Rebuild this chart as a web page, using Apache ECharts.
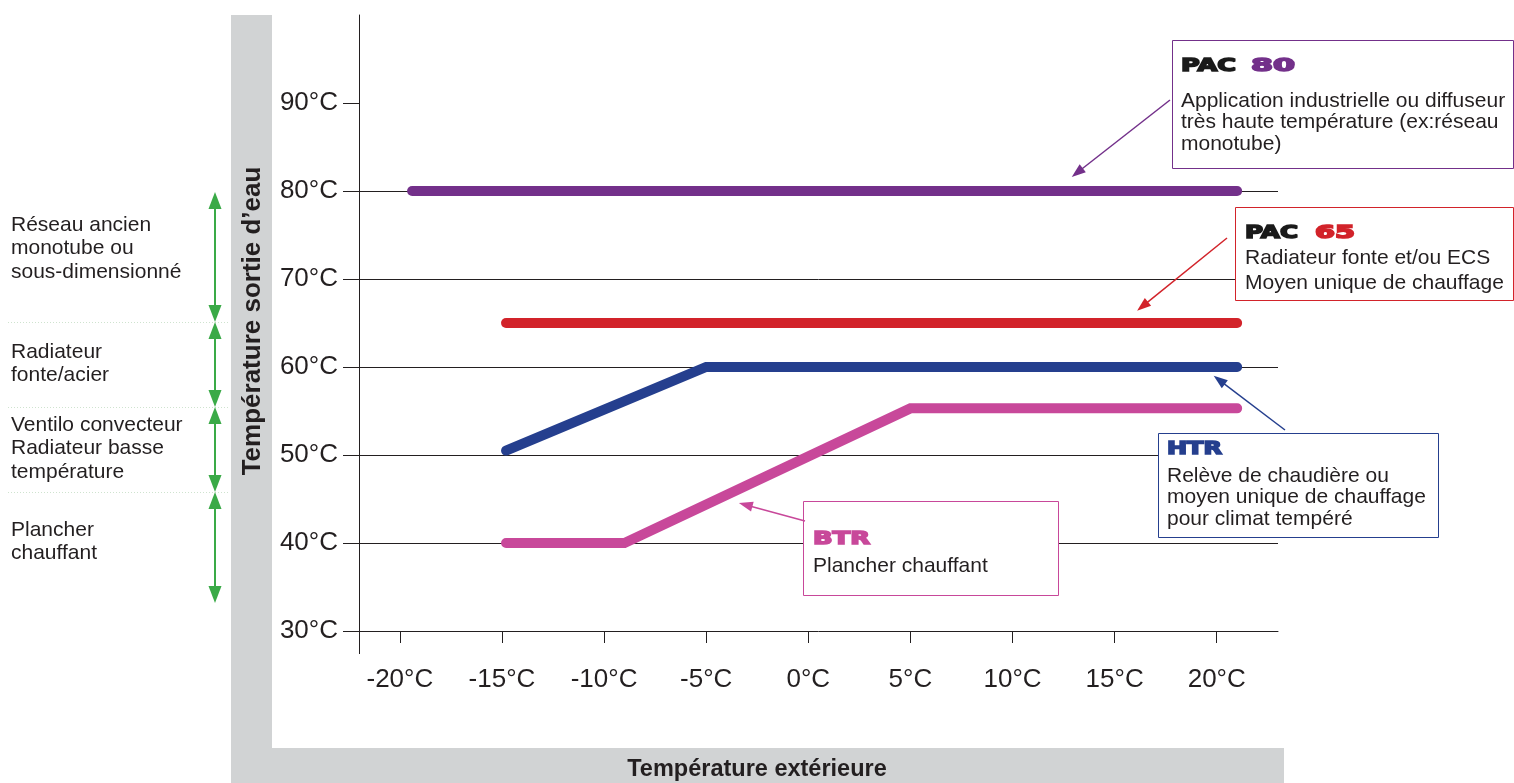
<!DOCTYPE html>
<html>
<head>
<meta charset="utf-8">
<script src="https://cdn.jsdelivr.net/npm/echarts@6/dist/echarts.min.js"></script>
<style>
  html, body { margin: 0; padding: 0; background: #ffffff; }
  #chart { width: 1514px; height: 783px; }
</style>
</head>
<body>
<div id="chart"></div>
<script>
// Water outlet temperature (°C) versus outdoor temperature (°C) for each heat pump range
const pac80 = [[-19.4, 80], [21, 80]];
const pac65 = [[-14.8, 65], [21, 65]];
const htr   = [[-14.8, 50.5], [-5, 60], [21, 60]];
const btr   = [[-14.8, 40], [-9, 40], [5, 55.3], [21, 55.3]];

// Tick labels
const xTicks = [-20, -15, -10, -5, 0, 5, 10, 15, 20];
const yTicks = [30, 40, 50, 60, 70, 80, 90];

// Emitter families listed beside the vertical axis
const emitterLabels = [
  ['Réseau ancien', 'monotube ou', 'sous-dimensionné'],
  ['Radiateur', 'fonte/acier'],
  ['Ventilo convecteur', 'Radiateur basse', 'température'],
  ['Plancher', 'chauffant']
];

const COLORS = {
  pac80: '#73308a',
  pac65: '#d2232a',
  htr: '#253f8e',
  btr: '#c8489a',
  green: '#3aaa47',
  band: '#d1d3d4',
  text: '#231f20'
};

const FONT = '"Liberation Sans", Arial, Helvetica, sans-serif';
const TITLE_FONT = '"DejaVu Sans", Verdana, sans-serif';

const chart = echarts.init(document.getElementById('chart'), null, { renderer: 'canvas' });

function lineSeries(name, data, color) {
  return {
    name: name,
    type: 'line',
    data: data,
    showSymbol: false,
    symbol: 'none',
    silent: true,
    clip: false,
    lineStyle: { color: color, width: 10, cap: 'round', join: 'miter' },
    z: 5
  };
}

chart.setOption({
  animation: false,
  grid: { left: 359, right: 236, top: 15, bottom: 152, containLabel: false },
  xAxis: {
    type: 'value',
    min: -22,
    max: 23,
    axisLine: { show: true, onZero: false, lineStyle: { color: COLORS.text, width: 1 } },
    axisTick: { show: true, length: 12, inside: false, customValues: xTicks, lineStyle: { color: COLORS.text } },
    axisLabel: {
      customValues: xTicks,
      margin: 36,
      fontSize: 26,
      fontFamily: FONT,
      color: COLORS.text,
      formatter: function (v) { return v + '°C'; }
    },
    splitLine: { show: false }
  },
  yAxis: {
    type: 'value',
    min: 30,
    max: 100,
    interval: 10,
    axisLine: { show: true, onZero: false, lineStyle: { color: COLORS.text, width: 1 } },
    axisTick: { show: true, length: 16, inside: false, customValues: yTicks, lineStyle: { color: COLORS.text } },
    axisLabel: {
      customValues: yTicks,
      margin: 21,
      fontSize: 26,
      fontFamily: FONT,
      color: COLORS.text,
      formatter: function (v) { return v + '°C'; }
    },
    splitLine: { show: true, showMinLine: false, showMaxLine: false, lineStyle: { color: COLORS.text, width: 1 } }
  },
  series: [
    lineSeries('PAC 80', pac80, COLORS.pac80),
    lineSeries('PAC 65', pac65, COLORS.pac65),
    lineSeries('HTR', htr, COLORS.htr),
    lineSeries('BTR', btr, COLORS.btr)
  ]
});

// Callout boxes: frame, coloured range name, description, and the point the arrow designates
const callouts = [
  {
    box: { x: 1172, y: 40, w: 341, h: 128 }, color: COLORS.pac80,
    head: 'PAC', code: '80', headX: 1181, headW: 55, codeX: 1251, codeW: 44, titleY: 66,
    lines: ['Application industrielle ou diffuseur', 'très haute température (ex:réseau', 'monotube)'],
    textX: 1181, textY: 101, lineH: 21.5,
    tail: [1170, 100], tip: [12.9, 81.6]
  },
  {
    box: { x: 1235, y: 207, w: 278, h: 93 }, color: COLORS.pac65,
    head: 'PAC', code: '65', headX: 1245, headW: 53, codeX: 1315, codeW: 40, titleY: 233,
    lines: ['Radiateur fonte et/ou ECS', 'Moyen unique de chauffage'],
    textX: 1245, textY: 258, lineH: 25,
    tail: [1227, 238], tip: [16.1, 66.4]
  },
  {
    box: { x: 1158, y: 433, w: 280, h: 104 }, color: COLORS.htr,
    head: null, code: 'HTR', codeX: 1167, codeW: 55, titleY: 449,
    lines: ['Relève de chaudière ou', 'moyen unique de chauffage', 'pour climat tempéré'],
    textX: 1167, textY: 476, lineH: 21.5,
    tail: [1285, 430], tip: [19.85, 59.0]
  },
  {
    box: { x: 803, y: 501, w: 255, h: 94 }, color: COLORS.btr,
    head: null, code: 'BTR', codeX: 813, codeW: 57, titleY: 539,
    lines: ['Plancher chauffant'],
    textX: 813, textY: 566, lineH: 21.5,
    tail: [805, 521], tip: [-3.4, 44.55]
  }
];

const TITLE_SIZE = 18;

function measure(text, font) {
  const c = measure.ctx || (measure.ctx = document.createElement('canvas').getContext('2d'));
  c.font = font;
  return c.measureText(text).width;
}

// Heavy extended lettering for the range names
function titleText(x, y, text, color, targetW) {
  const font = 'bold ' + TITLE_SIZE + 'px ' + TITLE_FONT;
  const w = measure(text, font);
  return {
    type: 'text', x: x, y: y, scaleX: targetW / w, z: 120,
    style: {
      text: text, fill: color, stroke: color, lineWidth: 1.6,
      fontSize: TITLE_SIZE, fontWeight: 'bold',
      fontFamily: TITLE_FONT, align: 'left', verticalAlign: 'middle'
    }
  };
}

function plainText(x, y, text, size, opts) {
  return Object.assign({
    type: 'text', x: x, y: y, z: 120,
    style: {
      text: text, fill: COLORS.text, fontSize: size, fontFamily: FONT,
      align: 'left', verticalAlign: 'middle'
    }
  }, opts || {});
}

function arrowHead(tx, ty, fx, fy, len, width, color) {
  const dx = tx - fx, dy = ty - fy;
  const d = Math.sqrt(dx * dx + dy * dy);
  const ux = dx / d, uy = dy / d;
  const bx = tx - ux * len, by = ty - uy * len;
  const nx = -uy, ny = ux;
  return {
    type: 'polygon', z: 110, silent: true,
    shape: { points: [[tx, ty], [bx + nx * width / 2, by + ny * width / 2], [bx - nx * width / 2, by - ny * width / 2]] },
    style: { fill: color }
  };
}

function arrowLine(x1, y1, x2, y2, color, lw, headLen) {
  const dx = x2 - x1, dy = y2 - y1;
  const d = Math.sqrt(dx * dx + dy * dy);
  return {
    type: 'line', z: 110, silent: true,
    shape: { x1: x1, y1: y1, x2: x2 - dx / d * headLen * 0.8, y2: y2 - dy / d * headLen * 0.8 },
    style: { stroke: color, lineWidth: lw }
  };
}

function buildGraphic() {
  const g = [];
  const origin = chart.convertToPixel({ gridIndex: 0 }, [-22, 30]);

  // Grey title bands
  g.push({ type: 'rect', z: 0, silent: true, shape: { x: 231, y: 15, width: 41, height: 768 }, style: { fill: COLORS.band } });
  g.push({ type: 'rect', z: 0, silent: true, shape: { x: 231, y: 748, width: 1053, height: 35 }, style: { fill: COLORS.band } });

  // Axis titles
  g.push({
    type: 'text', x: 253, y: 321, rotation: Math.PI / 2, z: 120,
    style: { text: 'Température sortie d’eau', fill: COLORS.text, fontSize: 26, fontWeight: 'bold', fontFamily: FONT, align: 'center', verticalAlign: 'middle' }
  });
  g.push({
    type: 'text', x: 757, y: 770, z: 120,
    style: { text: 'Température extérieure', fill: COLORS.text, fontSize: 23.5, fontWeight: 'bold', fontFamily: FONT, align: 'center', verticalAlign: 'middle' }
  });

  // Axis line overhangs past the origin
  g.push({ type: 'line', z: 50, silent: true, shape: { x1: origin[0] - 13, y1: origin[1] + 0.5, x2: origin[0], y2: origin[1] + 0.5 }, style: { stroke: COLORS.text, lineWidth: 1 } });
  g.push({ type: 'line', z: 50, silent: true, shape: { x1: origin[0] + 0.5, y1: origin[1], x2: origin[0] + 0.5, y2: origin[1] + 23 }, style: { stroke: COLORS.text, lineWidth: 1 } });

  // Emitter ranges with green double arrows
  const spans = [[192, 322], [322, 407], [407, 492], [492, 603]];
  const textTops = [225, 352, 425, 530];
  const ax = 215;
  spans.forEach(function (s, i) {
    g.push({ type: 'line', z: 100, silent: true, shape: { x1: ax, y1: s[0] + 10, x2: ax, y2: s[1] - 10 }, style: { stroke: COLORS.green, lineWidth: 2 } });
    g.push(arrowHead(ax, s[0], ax, s[0] + 30, 17, 13, COLORS.green));
    g.push(arrowHead(ax, s[1], ax, s[1] - 30, 17, 13, COLORS.green));
    emitterLabels[i].forEach(function (t, j) {
      g.push(plainText(11, textTops[i] + j * 23.5, t, 21));
    });
  });
  [322, 407, 492].forEach(function (y) {
    g.push({ type: 'line', z: 90, silent: true, shape: { x1: 8, y1: y + 0.5, x2: 230, y2: y + 0.5 }, style: { stroke: '#cfe3cf', lineWidth: 1, lineDash: [1, 2] } });
  });

  // Callouts
  callouts.forEach(function (c) {
    g.push({ type: 'rect', z: 105, silent: true, shape: { x: c.box.x + 0.5, y: c.box.y + 0.5, width: c.box.w, height: c.box.h }, style: { fill: '#ffffff', stroke: c.color, lineWidth: 1 } });
    if (c.head) g.push(titleText(c.headX, c.titleY, c.head, '#1a1a1a', c.headW));
    g.push(titleText(c.codeX, c.titleY, c.code, c.color, c.codeW));
    c.lines.forEach(function (t, j) {
      g.push(plainText(c.textX, c.textY + j * c.lineH, t, 21));
    });
    const tip = chart.convertToPixel({ gridIndex: 0 }, c.tip);
    g.push(arrowLine(c.tail[0], c.tail[1], tip[0], tip[1], c.color, 1.5, 14));
    g.push(arrowHead(tip[0], tip[1], c.tail[0], c.tail[1], 14, 10, c.color));
  });

  return g;
}

chart.setOption({ graphic: buildGraphic() });
</script>
</body>
</html>
